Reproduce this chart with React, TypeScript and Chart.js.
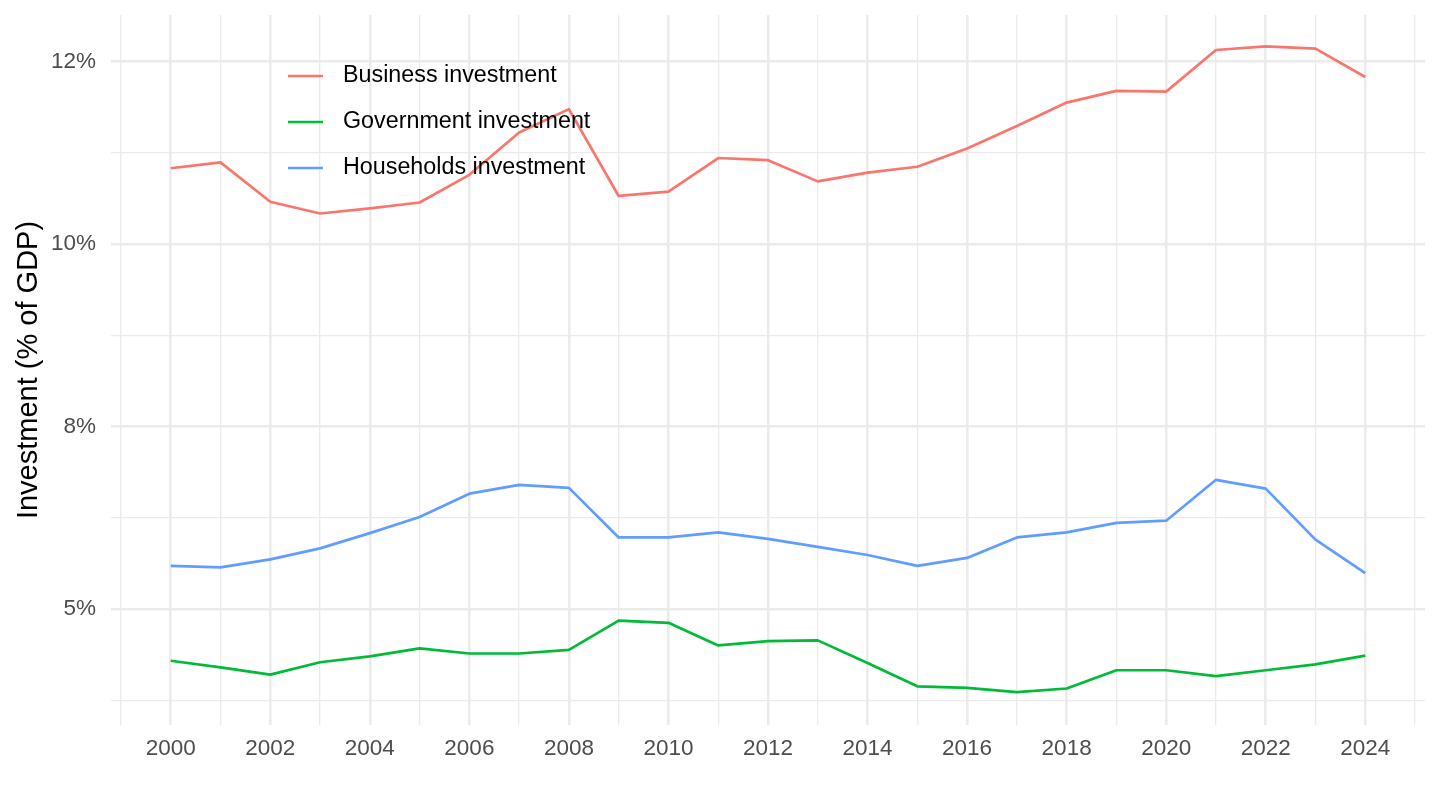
import React, { useEffect, useRef } from "react";
import { Chart, registerables } from "chart.js";

Chart.register(...registerables);

const years = [
  2000, 2001, 2002, 2003, 2004, 2005, 2006, 2007, 2008, 2009, 2010, 2011, 2012,
  2013, 2014, 2015, 2016, 2017, 2018, 2019, 2020, 2021, 2022, 2023, 2024,
];

const business = [
  11.04, 11.12, 10.58, 10.42, 10.49, 10.57, 10.95, 11.53, 11.85, 10.66, 10.72,
  11.18, 11.15, 10.86, 10.98, 11.06, 11.31, 11.62, 11.94, 12.1, 12.09, 12.66,
  12.71, 12.68, 12.29,
];

const government = [
  4.29, 4.2, 4.1, 4.27, 4.35, 4.46, 4.39, 4.39, 4.44, 4.84, 4.81, 4.5, 4.56,
  4.57, 4.26, 3.94, 3.92, 3.86, 3.91, 4.16, 4.16, 4.08, 4.16, 4.24, 4.36,
];

const households = [
  5.59, 5.57, 5.68, 5.83, 6.04, 6.26, 6.58, 6.7, 6.66, 5.98, 5.98, 6.05, 5.96,
  5.85, 5.74, 5.59, 5.7, 5.98, 6.05, 6.18, 6.21, 6.77, 6.65, 5.95, 5.49,
];

const seriesNames = [
  "Business investment",
  "Government investment",
  "Households investment",
];
const seriesColors = ["#F8766D", "#00BA38", "#619CFF"];
const seriesValues = [business, government, households];

const yTickValues = [3.75, 5, 6.25, 7.5, 8.75, 10, 11.25, 12.5];
const yTickLabels = ["", "5%", "", "8%", "", "10%", "", "12%"];

const xTickValues = [
  1999, 2000, 2001, 2002, 2003, 2004, 2005, 2006, 2007, 2008, 2009, 2010, 2011,
  2012, 2013, 2014, 2015, 2016, 2017, 2018, 2019, 2020, 2021, 2022, 2023, 2024,
  2025,
];
const xTickLabels = xTickValues.map((y) => (y % 2 === 0 ? String(y) : ""));

const yTitle = "Investment (% of GDP)";

const FONT = '"Liberation Sans", Arial, Helvetica, sans-serif';
const GRID = "#ebebeb";

const insideLegend = {
  id: "insideLegend",
  afterDraw(chart: any) {
    const { ctx, chartArea } = chart;
    const x0 = chartArea.left + 177;
    const y0 = chartArea.top + 61;
    chart.data.datasets.forEach((ds: any, i: number) => {
      const y = y0 + i * 46;
      ctx.save();
      ctx.strokeStyle = ds.borderColor;
      ctx.lineWidth = 2.6;
      ctx.lineCap = "butt";
      ctx.beginPath();
      ctx.moveTo(x0, y);
      ctx.lineTo(x0 + 35, y);
      ctx.stroke();
      ctx.fillStyle = "#000000";
      ctx.font = `23.3px ${FONT}`;
      ctx.textBaseline = "middle";
      ctx.textAlign = "left";
      ctx.fillText(ds.label, x0 + 55, y);
      ctx.restore();
    });
  },
};

export default function App() {
  const canvasRef = useRef<HTMLCanvasElement | null>(null);

  useEffect(() => {
    document.body.style.margin = "0";
    const canvas = canvasRef.current;
    if (!canvas) return;

    const chart = new Chart(canvas, {
      type: "line",
      data: {
        datasets: seriesNames.map((name, i) => ({
          label: name,
          data: years.map((yr, j) => ({ x: yr, y: seriesValues[i][j] })),
          borderColor: seriesColors[i],
          backgroundColor: seriesColors[i],
          borderWidth: 2.7,
          pointRadius: 0,
          pointHoverRadius: 0,
          tension: 0,
          fill: false,
          borderJoinStyle: "round",
        })),
      },
      options: {
        animation: false,
        responsive: true,
        maintainAspectRatio: false,
        devicePixelRatio: 1,
        layout: { padding: { top: 15, right: 15, left: 0, bottom: 0 } },
        plugins: {
          legend: { display: false },
          tooltip: { enabled: false },
          title: { display: false },
        },
        scales: {
          x: {
            type: "linear",
            min: 1998.8,
            max: 2025.2,
            afterBuildTicks: (scale: any) => {
              scale.ticks = xTickValues.map((v) => ({ value: v }));
            },
            afterFit: (scale: any) => {
              scale.height = 85;
              scale.paddingLeft = 0;
              scale.paddingRight = 0;
            },
            ticks: {
              autoSkip: false,
              maxRotation: 0,
              padding: 10,
              color: "#4d4d4d",
              font: { family: FONT, size: 22.5 },
              callback: (_v: any, i: number) => xTickLabels[i],
            },
            grid: {
              color: GRID,
              drawTicks: false,
              lineWidth: (ctx: any) =>
                ctx.index !== undefined && xTickLabels[ctx.index] ? 2.6 : 1.3,
            },
            border: { display: false },
          },
          y: {
            type: "linear",
            min: 3.41,
            max: 13.14,
            afterBuildTicks: (scale: any) => {
              scale.ticks = yTickValues.map((v) => ({ value: v }));
            },
            afterFit: (scale: any) => {
              scale.width = 111;
              scale.paddingTop = 0;
              scale.paddingBottom = 0;
            },
            ticks: {
              autoSkip: false,
              padding: 15,
              color: "#4d4d4d",
              font: { family: FONT, size: 22.5 },
              callback: (_v: any, i: number) => yTickLabels[i],
            },
            grid: {
              color: GRID,
              drawTicks: false,
              lineWidth: (ctx: any) =>
                ctx.index !== undefined && yTickLabels[ctx.index] ? 2.6 : 1.3,
            },
            border: { display: false },
            title: {
              display: true,
              text: yTitle,
              color: "#000000",
              font: { family: FONT, size: 29 },
              padding: { top: 12, bottom: 0 },
            },
          },
        },
      },
      plugins: [insideLegend],
    } as any);

    return () => chart.destroy();
  }, []);

  return (
    <div
      style={{
        position: "fixed",
        left: 0,
        top: 0,
        width: "1440px",
        height: "810px",
        background: "#ffffff",
      }}
    >
      <canvas ref={canvasRef} />
    </div>
  );
}
